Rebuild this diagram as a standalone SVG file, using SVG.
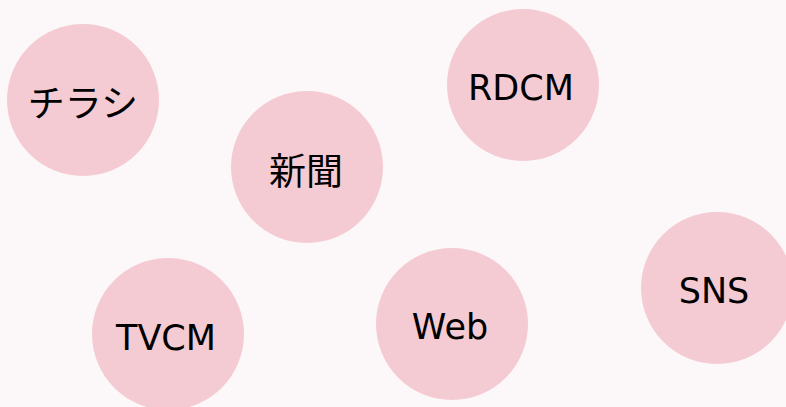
<svg xmlns="http://www.w3.org/2000/svg" width="786" height="407" viewBox="0 0 786 407">
<style>
.n{fill:#f5cbd3}
.t{font-family:"DejaVu Sans","Noto Sans CJK JP",sans-serif;font-size:35px;fill:#000;text-anchor:middle}
.j{font-family:"Noto Sans CJK JP",sans-serif;font-size:37px;fill:#000;text-anchor:middle}
</style>
<rect width="786" height="407" fill="#fcf7f8"/>
<g id="connectors"></g>
<g id="chirashi"><circle class="n" cx="83" cy="100" r="76"/><text class="j" x="83" y="117">チラシ</text></g>
<g id="rdcm"><circle class="n" cx="523" cy="85" r="76"/><text class="t" x="521" y="100">RDCM</text></g>
<g id="shinbun"><circle class="n" cx="307" cy="167" r="76"/><text class="j" x="306" y="185">新聞</text></g>
<g id="sns"><circle class="n" cx="717" cy="288" r="76"/><text class="t" x="714" y="303">SNS</text></g>
<g id="web"><circle class="n" cx="452" cy="324" r="76"/><text class="t" x="450" y="339">Web</text></g>
<g id="tvcm"><circle class="n" cx="168" cy="334" r="76"/><text class="t" x="166" y="350">TVCM</text></g>
</svg>
